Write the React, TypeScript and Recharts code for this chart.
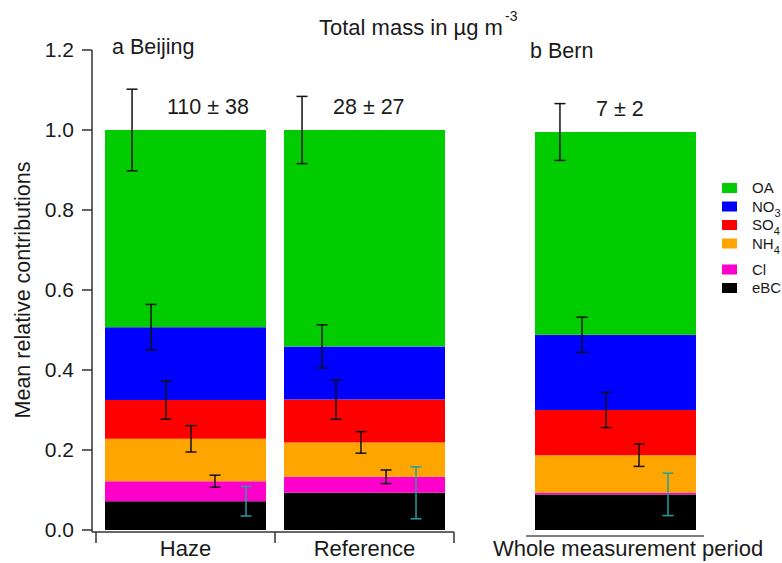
import React from 'react';
import { BarChart, Bar, XAxis, YAxis } from 'recharts';

// ---- data ----
const categories = ['Haze', 'Reference', 'Whole measurement period'];
// species from bottom of the stack to top
const species = ['eBC', 'Cl', 'NH4', 'SO4', 'NO3', 'OA'];

const eBC = [0.072, 0.093, 0.089];
const Cl = [0.05, 0.04, 0.004];
const NH4 = [0.106, 0.086, 0.094];
const SO4 = [0.097, 0.107, 0.113];
const NO3 = [0.182, 0.133, 0.188];
const OA = [0.493, 0.541, 0.507];

// half length of the error bars
const eBCErr = [0.037, 0.065, 0.053];
const ClErr = [0.015, 0.017, 0];
const NH4Err = [0.033, 0.027, 0.028];
const SO4Err = [0.048, 0.049, 0.044];
const NO3Err = [0.057, 0.054, 0.044];
const OAErr = [0.102, 0.084, 0.071];

const totalMass = ['110 \u00b1 38', '28 \u00b1 27', '7 \u00b1 2'];
const yTicks = [0, 0.2, 0.4, 0.6, 0.8, 1.0, 1.2];

// ---- styles ----
const FONT = '"Liberation Sans", Arial, sans-serif';
const TEXT = '#1a1a1a';
const AXIS = '#333';
const colors: Record<string, string> = {
  OA: '#00cc00',
  NO3: '#0000ff',
  SO4: '#ff0000',
  NH4: '#ffa500',
  Cl: '#ff00cc',
  eBC: '#000000',
};
const legendText: Record<string, [string, string]> = {
  OA: ['OA', ''],
  NO3: ['NO', '3'],
  SO4: ['SO', '4'],
  NH4: ['NH', '4'],
  Cl: ['Cl', ''],
  eBC: ['eBC', ''],
};
const legendOrder = ['OA', 'NO3', 'SO4', 'NH4', 'Cl', 'eBC'];
const legendDy = [0, 18.5, 37, 55.5, 81.5, 100];

// where each error bar sits across the bar width (same order as species)
const errX: Record<string, number[]> = {
  Haze: [0.876, 0.683, 0.534, 0.379, 0.286, 0.168],
  Reference: [0.82, 0.634, 0.478, 0.323, 0.236, 0.112],
  'Whole measurement period': [0.826, 0.72, 0.646, 0.441, 0.292, 0.155],
};
const labelDx: Record<string, number> = { Haze: 62, Reference: 49, 'Whole measurement period': 61 };

const values: Record<string, number[]> = { eBC, Cl, NH4, SO4, NO3, OA };
const errors: Record<string, number[]> = { eBC: eBCErr, Cl: ClErr, NH4: NH4Err, SO4: SO4Err, NO3: NO3Err, OA: OAErr };

const rows = categories.map((name, i) => {
  const row: any = { name, total: totalMass[i] };
  species.forEach((s) => {
    row[s] = values[s][i];
    row[s + 'Err'] = errors[s][i];
  });
  return row;
});

// top segment draws itself, then all error bars of the column and the total mass label
function TopSegment(props: any) {
  const { x, y, width, height, payload, fill } = props;
  const ppu = height / payload.OA;
  const below = species.slice(0, -1).reduce((sum, s) => sum + payload[s], 0);
  const zero = y + height + below * ppu;
  const fr = errX[payload.name];
  let cum = 0;
  return (
    <g>
      <rect x={x} y={y} width={width} height={height} fill={fill} />
      {species.map((s, k) => {
        cum += payload[s];
        const e = payload[s + 'Err'];
        if (!e) return null;
        const cx = x + fr[k] * width;
        const cy = zero - cum * ppu;
        const h = e * ppu;
        const c = s === 'eBC' ? '#239f9f' : '#111';
        return (
          <g key={s} stroke={c} strokeWidth={1.5}>
            <line x1={cx} x2={cx} y1={cy - h} y2={cy + h} />
            <line x1={cx - 5.5} x2={cx + 5.5} y1={cy - h} y2={cy - h} />
            <line x1={cx - 5.5} x2={cx + 5.5} y1={cy + h} y2={cy + h} />
          </g>
        );
      })}
      <text x={x + labelDx[payload.name]} y={y - 16} fontSize={21.5} fontFamily={FONT} fill={TEXT}>
        {payload.total}
      </text>
    </g>
  );
}

function BeijingTick(props: any) {
  const { x, y, payload } = props;
  const half = payload.offset ?? 89.5;
  const last = payload.value === categories[1];
  return (
    <g>
      <line x1={x - half} x2={x - half} y1={y} y2={y + 11} stroke={AXIS} strokeWidth={1.5} />
      {last && <line x1={x + half} x2={x + half} y1={y} y2={y + 11} stroke={AXIS} strokeWidth={1.5} />}
      <text x={x} y={y + 24} textAnchor="middle" fontSize={22} fontFamily={FONT} fill={TEXT}>
        {payload.value}
      </text>
    </g>
  );
}

function BernTick(props: any) {
  const { x, y, payload } = props;
  return (
    <text x={x + 13} y={y + 20} textAnchor="middle" fontSize={22} fontFamily={FONT} fill={TEXT}>
      {payload.value}
    </text>
  );
}

function Stack() {
  return species.map((s) => (
    <Bar
      key={s}
      dataKey={s}
      stackId="a"
      fill={colors[s]}
      barSize={161}
      isAnimationActive={false}
      shape={s === 'OA' ? TopSegment : undefined}
    />
  ));
}

export default function App() {
  return (
    <div style={{ position: 'absolute', left: 0, top: 0, width: 782, height: 563, background: '#fff' }}>
      <div style={{ position: 'absolute', left: 0, top: 0 }}>
        <BarChart width={470} height={563} data={rows.slice(0, 2)} margin={{ top: 50, right: 16, bottom: 0, left: 0 }}>
          <XAxis
            dataKey="name"
            height={31}
            padding={{ left: 4, right: 0 }}
            axisLine={{ stroke: AXIS, strokeWidth: 1.5 }}
            tickLine={false}
            tickSize={0}
            tickMargin={0}
            tick={BeijingTick}
            interval={0}
          />
          <YAxis
            width={92}
            domain={[0, 1.2]}
            ticks={yTicks}
            padding={{ top: 0, bottom: 2 }}
            tickFormatter={(v: number) => v.toFixed(1)}
            axisLine={{ stroke: AXIS, strokeWidth: 1.5 }}
            tickLine={{ stroke: AXIS, strokeWidth: 1.5 }}
            tickSize={10}
            tickMargin={8}
            tick={{ fontSize: 21, fontFamily: FONT, fill: TEXT }}
          />
          {Stack()}
        </BarChart>
      </div>
      <div style={{ position: 'absolute', left: 470, top: 0 }}>
        <BarChart width={312} height={563} data={rows.slice(2)} margin={{ top: 50, right: 78, bottom: 0, left: 56 }}>
          <XAxis
            dataKey="name"
            height={27}
            axisLine={{ stroke: '#555', strokeWidth: 1.5 }}
            tickLine={false}
            tickSize={0}
            tickMargin={0}
            tick={BernTick}
            interval={0}
          />
          <YAxis hide domain={[0, 1.2]} ticks={yTicks} padding={{ top: 0, bottom: 6 }} />
          {Stack()}
        </BarChart>
      </div>
      <svg width={782} height={563} style={{ position: 'absolute', left: 0, top: 0, pointerEvents: 'none' }}>
        <g fontFamily={FONT} fill={TEXT}>
          <text x={319} y={35} fontSize={22}>Total mass in µg m</text>
          <text x={505} y={21} fontSize={14}>-3</text>
          <text x={112} y={54} fontSize={21.5}>a Beijing</text>
          <text x={530} y={58} fontSize={21.5}>b Bern</text>
          <text transform="translate(30,290) rotate(-90)" textAnchor="middle" fontSize={21.5}>
            Mean relative contributions
          </text>
          {legendOrder.map((s, i) => {
            const cy = 188 + legendDy[i];
            const [main, sub] = legendText[s];
            return (
              <g key={s}>
                <rect x={722} y={cy - 5} width={15} height={10} fill={colors[s]} />
                <text x={752} y={cy + 5} fontSize={15}>
                  {main}
                  {sub && (
                    <tspan fontSize={11} dy={5}>
                      {sub}
                    </tspan>
                  )}
                </text>
              </g>
            );
          })}
        </g>
      </svg>
    </div>
  );
}
